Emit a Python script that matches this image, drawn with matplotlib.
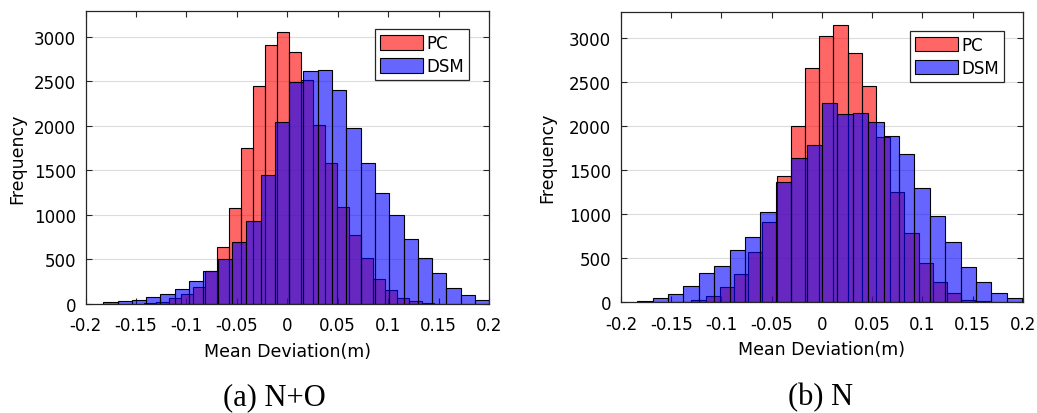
import numpy as np
import matplotlib
matplotlib.use("Agg")
import matplotlib.pyplot as plt
import matplotlib.patches as mpatches

# Histogram data (counts per bin)
# (a) N+O
pc_no_start, pc_no_width = -0.1417, 0.01195
pc_no_counts = [11, 26, 64, 112, 194, 367, 642, 1076, 1747, 2447, 2904, 3057,
                2833, 2514, 2012, 1582, 1085, 774, 520, 277, 161, 64, 30, 12]
dsm_no_start, dsm_no_width = -0.1825, 0.01418
dsm_no_counts = [19, 34, 45, 79, 109, 165, 255, 374, 505, 692, 931, 1451, 2039,
                 2490, 2619, 2630, 2405, 1972, 1582, 1242, 1002, 730, 516, 348,
                 183, 101, 45]

# (b) N
pc_n_start, pc_n_width = -0.1440, 0.01413
pc_n_counts = [7, 26, 75, 170, 322, 568, 916, 1432, 2000, 2663, 3023, 3155,
               2830, 2455, 1880, 1250, 784, 443, 234, 106, 30, 10]
dsm_n_start, dsm_n_width = -0.1838, 0.01532
dsm_n_counts = [19, 49, 94, 189, 330, 413, 594, 745, 1023, 1364, 1636, 1791,
                2261, 2136, 2148, 2052, 1893, 1685, 1299, 977, 682, 405, 234,
                106, 49]

xticks = [-0.2, -0.15, -0.1, -0.05, 0, 0.05, 0.1, 0.15, 0.2]
xtick_labels = ['-0.2', '-0.15', '-0.1', '-0.05', '0', '0.05', '0.1', '0.15', '0.2']
yticks = [0, 500, 1000, 1500, 2000, 2500, 3000]
series_names = ['PC', 'DSM']
captions = ['(a) N+O', '(b) N']

RED = (1, 0, 0, 0.6)
BLUE = (0, 0, 1, 0.6)
SERIF = ['Liberation Serif', 'DejaVu Serif']

plt.rcParams['font.family'] = ['DejaVu Sans']


def draw_hist(ax, start, width, counts, color):
    edges = start + width * np.arange(len(counts))
    ax.bar(edges, counts, width=width, align='edge', color=color,
           edgecolor='black', linewidth=0.8, zorder=2)


def style_axes(ax, ymax, ylab_x, leg_anchor):
    ax.set_xlim(-0.2, 0.2)
    ax.set_ylim(0, ymax)
    ax.set_xticks(xticks)
    ax.set_xticklabels(xtick_labels)
    ax.set_yticks(yticks)
    ax.tick_params(direction='in', top=True, right=True, length=4,
                   width=0.8, color='#262626', labelsize=12)
    ax.tick_params(axis='x', pad=9)
    ax.tick_params(axis='y', pad=7)
    for s in ax.spines.values():
        s.set_color('#262626')
        s.set_linewidth(0.9)
    ax.yaxis.grid(True, color='#dcdcdc', linewidth=0.8)
    ax.set_axisbelow(True)
    ax.set_xlabel('Mean Deviation(m)', fontsize=12.5)
    ax.set_ylabel('Frequency', fontsize=12.5)
    ax.xaxis.set_label_coords(0.5, -0.13)
    ax.yaxis.set_label_coords(ylab_x, 0.5)
    handles = [mpatches.Patch(facecolor=RED, edgecolor='black', linewidth=0.8),
               mpatches.Patch(facecolor=BLUE, edgecolor='black', linewidth=0.8)]
    leg = ax.legend(handles, series_names, loc='upper right',
                    bbox_to_anchor=leg_anchor, borderaxespad=0, fontsize=12,
                    fancybox=False, framealpha=1, edgecolor='#262626',
                    handlelength=2.6, handleheight=1.0, handletextpad=0.2,
                    labelspacing=0.3, borderpad=0.3)
    leg.get_frame().set_linewidth(0.9)


fig = plt.figure(figsize=(10.37, 4.14), dpi=100)

ax1 = fig.add_axes([0.0826, 0.2633, 0.3889, 0.7070])
draw_hist(ax1, pc_no_start, pc_no_width, pc_no_counts, RED)
draw_hist(ax1, dsm_no_start, dsm_no_width, dsm_no_counts, BLUE)
style_axes(ax1, 3285, -0.148, (0.951, 0.9395))

ax2 = fig.add_axes([0.5988, 0.2674, 0.3877, 0.7005])
draw_hist(ax2, pc_n_start, pc_n_width, pc_n_counts, RED)
draw_hist(ax2, dsm_n_start, dsm_n_width, dsm_n_counts, BLUE)
style_axes(ax2, 3295, -0.162, (0.953, 0.9366))

fig.text(0.265, 0.040, captions[0], family=SERIF, fontsize=22,
         ha='center', va='center')
fig.text(0.791, 0.040, captions[1], family=SERIF, fontsize=22,
         ha='center', va='center')

fig.savefig('out.png', dpi=100)
